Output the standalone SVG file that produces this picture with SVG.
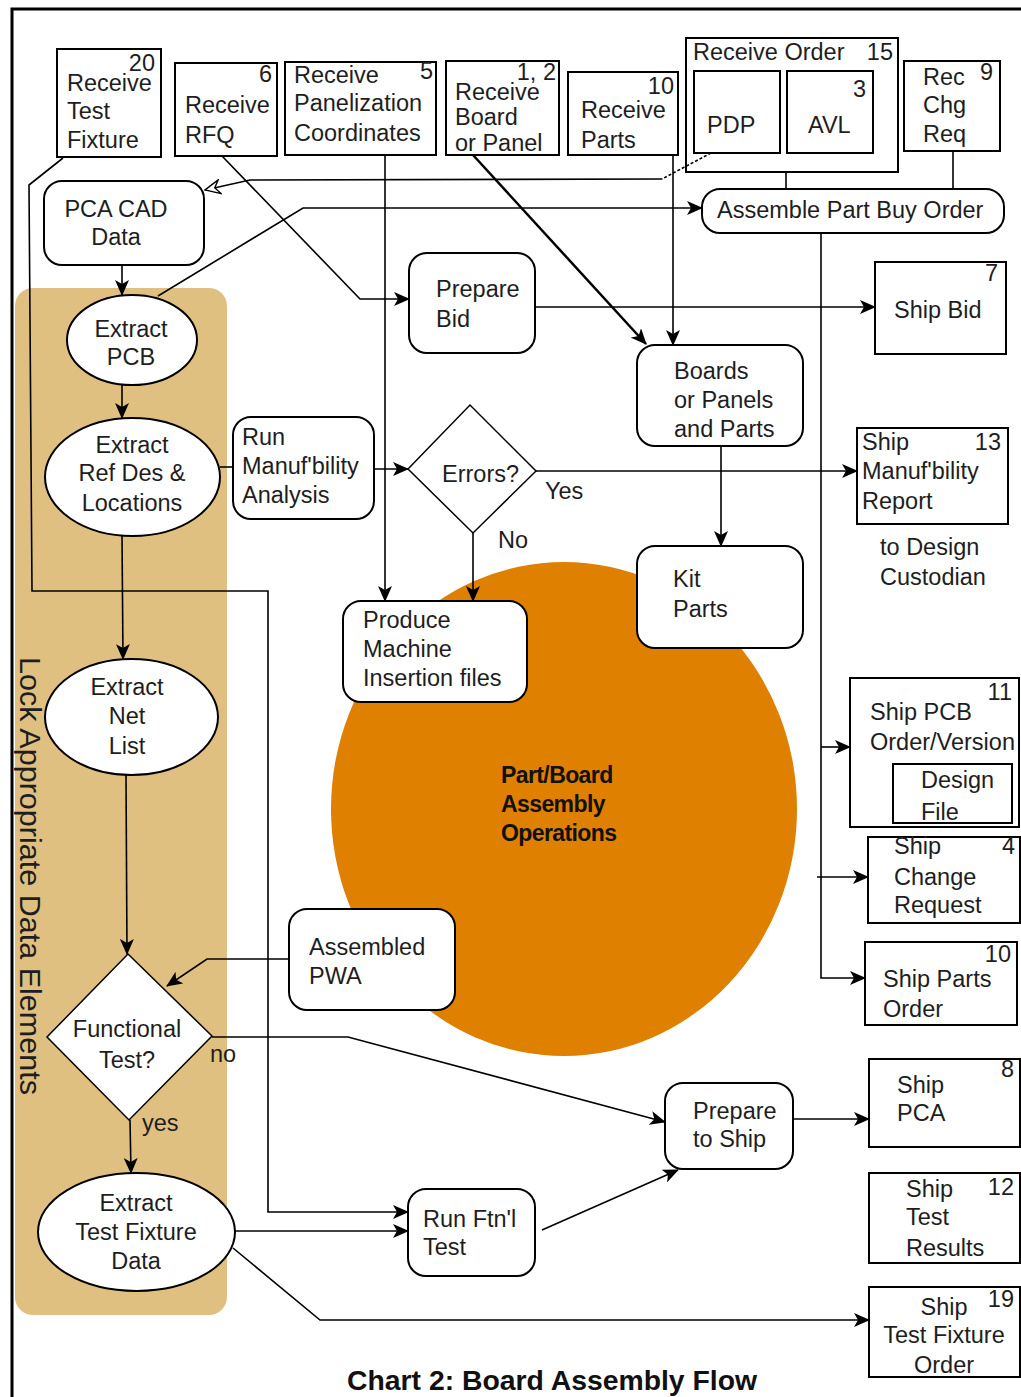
<svg xmlns="http://www.w3.org/2000/svg" width="1021" height="1397" viewBox="0 0 1021 1397">
<style>
.bx{fill:#fff;stroke:#000;stroke-width:2}
.t{font-family:"Liberation Sans",Arial,sans-serif;font-size:23.5px;fill:#1e1e1e}
.m{text-anchor:middle}
.e{text-anchor:end}
.c{fill:none;stroke:#000;stroke-width:1.6}
.a{marker-end:url(#ah)}
</style>
<defs>
<marker id="ah" viewBox="0 0 16 14" refX="15" refY="7" markerWidth="16" markerHeight="14" markerUnits="userSpaceOnUse" orient="auto"><path d="M0,0 L16,7 L0,14 L4,7 z" fill="#000"/></marker>
<marker id="oh" viewBox="0 0 18 16" refX="16" refY="8" markerWidth="18" markerHeight="16" markerUnits="userSpaceOnUse" orient="auto"><path d="M1,1 L16,8 L1,15 L6,8 z" fill="#fff" stroke="#000" stroke-width="1.4"/></marker>
</defs>
<rect width="1021" height="1397" fill="#fff"/>
<path d="M12,1397 V9 H1021" fill="none" stroke="#000" stroke-width="3"/>
<rect x="15" y="288" width="212" height="1027" rx="18" fill="#E0C080"/>
<ellipse cx="564" cy="809" rx="233" ry="247" fill="#DF8000"/>
<text class="t" transform="translate(20,657) rotate(90)" style="font-size:30px" textLength="438" lengthAdjust="spacingAndGlyphs">Lock Appropriate Data Elements</text>
<g font-family="Liberation Sans,Arial,sans-serif" font-weight="bold" font-size="23" letter-spacing="-0.6" fill="#111">
<text x="501" y="783">Part/Board</text>
<text x="501" y="812">Assembly</text>
<text x="501" y="841">Operations</text>
</g>

<g id="n_rtf"><rect class="bx" x="57" y="49" width="104" height="108"/>
<text class="t e" x="155" y="71">20</text><text class="t" x="67" y="91">Receive</text><text class="t" x="67" y="119">Test</text><text class="t" x="67" y="148">Fixture</text></g>
<g id="n_rfq"><rect class="bx" x="175" y="63" width="102" height="93"/>
<text class="t e" x="272" y="82">6</text><text class="t" x="185" y="113">Receive</text><text class="t" x="185" y="143">RFQ</text></g>
<g id="n_rpc"><rect class="bx" x="285" y="62" width="151" height="93"/>
<text class="t e" x="433" y="79">5</text><text class="t" x="294" y="83">Receive</text><text class="t" x="294" y="111">Panelization</text><text class="t" x="294" y="141">Coordinates</text></g>
<g id="n_rbp"><rect class="bx" x="446" y="61" width="113" height="94"/>
<text class="t e" x="556" y="80">1, 2</text><text class="t" x="455" y="100">Receive</text><text class="t" x="455" y="125">Board</text><text class="t" x="455" y="151">or Panel</text></g>
<g id="n_rp"><rect class="bx" x="568" y="72" width="110" height="83"/>
<text class="t e" x="674" y="94">10</text><text class="t" x="581" y="118">Receive</text><text class="t" x="581" y="148">Parts</text></g>
<g id="n_ro"><rect class="bx" x="686" y="38" width="212" height="134"/>
<text class="t" x="693" y="60">Receive Order</text><text class="t e" x="893" y="60">15</text>
<rect class="bx" x="694" y="71" width="86" height="82"/><text class="t" x="707" y="133">PDP</text>
<rect class="bx" x="787" y="71" width="86" height="82"/><text class="t e" x="866" y="97">3</text><text class="t" x="808" y="133">AVL</text></g>
<g id="n_rcr"><rect class="bx" x="904" y="61" width="96" height="90"/>
<text class="t e" x="993" y="80">9</text><text class="t" x="923" y="85">Rec</text><text class="t" x="923" y="113">Chg</text><text class="t" x="923" y="142">Req</text></g>
<g id="n_pca"><rect class="bx" x="44" y="181" width="160" height="84" rx="18"/>
<text class="t m" x="116" y="217">PCA CAD</text><text class="t m" x="116" y="245">Data</text></g>
<g id="n_apbo"><rect class="bx" x="702" y="189" width="302" height="44" rx="18"/>
<text class="t" x="717" y="218">Assemble Part Buy Order</text></g>
<g id="n_epcb"><ellipse class="bx" cx="132" cy="340" rx="65" ry="45"/>
<text class="t m" x="131" y="337">Extract</text><text class="t m" x="131" y="365">PCB</text></g>
<g id="n_pb"><rect class="bx" x="409" y="253" width="126" height="100" rx="18"/>
<text class="t" x="436" y="297">Prepare</text><text class="t" x="436" y="327">Bid</text></g>
<g id="n_sb"><rect class="bx" x="875" y="262" width="131" height="92"/>
<text class="t e" x="998" y="281">7</text><text class="t" x="894" y="318">Ship Bid</text></g>
<g id="n_bpp"><rect class="bx" x="637" y="345" width="166" height="101" rx="18"/>
<text class="t" x="674" y="379">Boards</text><text class="t" x="674" y="408">or Panels</text><text class="t" x="674" y="437">and Parts</text></g>
<g id="n_erd"><ellipse class="bx" cx="132.5" cy="477" rx="87.5" ry="59"/>
<text class="t m" x="132" y="453">Extract</text><text class="t m" x="132" y="481">Ref Des &amp;</text><text class="t m" x="132" y="511">Locations</text></g>
<g id="n_rma"><rect class="bx" x="233" y="417" width="141" height="102" rx="18"/>
<text class="t" x="242" y="445">Run</text><text class="t" x="242" y="474">Manuf'bility</text><text class="t" x="242" y="503">Analysis</text></g>
<g id="n_err"><polygon class="bx" style="stroke-width:1.5" points="408,469 470,405 536,471 473,533"/>
<text class="t" x="442" y="482">Errors?</text></g>
<text class="t" x="545" y="499">Yes</text>
<text class="t" x="498" y="548">No</text>
<g id="n_smr"><rect class="bx" x="857" y="428" width="151" height="96"/>
<text class="t" x="862" y="450">Ship</text><text class="t e" x="1001" y="450">13</text><text class="t" x="862" y="479">Manuf'bility</text><text class="t" x="862" y="509">Report</text></g>
<text class="t" x="880" y="555">to Design</text>
<text class="t" x="880" y="585">Custodian</text>
<g id="n_kp"><rect class="bx" x="637" y="546" width="166" height="102" rx="18"/>
<text class="t" x="673" y="587">Kit</text><text class="t" x="673" y="617">Parts</text></g>
<g id="n_pmi"><rect class="bx" x="343" y="601" width="184" height="101" rx="18"/>
<text class="t" x="363" y="628">Produce</text><text class="t" x="363" y="657">Machine</text><text class="t" x="363" y="686">Insertion files</text></g>
<g id="n_enl"><ellipse class="bx" cx="131.5" cy="717" rx="86.5" ry="58"/>
<text class="t m" x="127" y="695">Extract</text><text class="t m" x="127" y="724">Net</text><text class="t m" x="127" y="754">List</text></g>
<g id="n_pwa"><rect class="bx" x="289" y="909" width="166" height="101" rx="18"/>
<text class="t" x="309" y="955">Assembled</text><text class="t" x="309" y="984">PWA</text></g>
<g id="n_ft"><polygon class="bx" style="stroke-width:1.5" points="128,954 212,1036 129,1120 47,1037"/>
<text class="t m" x="127" y="1037">Functional</text><text class="t m" x="127" y="1068">Test?</text></g>
<text class="t" x="210" y="1062">no</text>
<text class="t" x="142" y="1131">yes</text>
<g id="n_etf"><ellipse class="bx" cx="136.5" cy="1232" rx="98.5" ry="59"/>
<text class="t m" x="136" y="1211">Extract</text><text class="t m" x="136" y="1240">Test Fixture</text><text class="t m" x="136" y="1269">Data</text></g>
<g id="n_rft"><rect class="bx" x="408" y="1189" width="127" height="87" rx="18"/>
<text class="t" x="423" y="1227">Run Ftn'l</text><text class="t" x="423" y="1255">Test</text></g>
<g id="n_pts"><rect class="bx" x="665" y="1083" width="128" height="86" rx="18"/>
<text class="t" x="693" y="1119">Prepare</text><text class="t" x="693" y="1147">to Ship</text></g>
<g id="n_spcb"><rect class="bx" x="850" y="678" width="169" height="149"/>
<text class="t e" x="1012" y="700">11</text><text class="t" x="870" y="720">Ship PCB</text><text class="t" x="870" y="750">Order/Version</text>
<rect class="bx" x="893" y="764" width="119" height="59"/><text class="t" x="921" y="788">Design</text><text class="t" x="921" y="820">File</text></g>
<g id="n_scr"><rect class="bx" x="868" y="837" width="152" height="86"/>
<text class="t e" x="1015" y="854">4</text><text class="t" x="894" y="854">Ship</text><text class="t" x="894" y="885">Change</text><text class="t" x="894" y="913">Request</text></g>
<g id="n_spo"><rect class="bx" x="865" y="942" width="152" height="83"/>
<text class="t e" x="1011" y="962">10</text><text class="t" x="883" y="987">Ship Parts</text><text class="t" x="883" y="1017">Order</text></g>
<g id="n_spca"><rect class="bx" x="869" y="1059" width="151" height="88"/>
<text class="t e" x="1014" y="1077">8</text><text class="t" x="897" y="1093">Ship</text><text class="t" x="897" y="1121">PCA</text></g>
<g id="n_str"><rect class="bx" x="869" y="1173" width="151" height="90"/>
<text class="t e" x="1014" y="1195">12</text><text class="t" x="906" y="1197">Ship</text><text class="t" x="906" y="1225">Test</text><text class="t" x="906" y="1256">Results</text></g>
<g id="n_stfo"><rect class="bx" x="869" y="1287" width="151" height="90"/>
<text class="t e" x="1014" y="1307">19</text><text class="t m" x="944" y="1315">Ship</text><text class="t m" x="944" y="1343">Test Fixture</text><text class="t m" x="944" y="1373">Order</text></g>
<text x="552" y="1390" font-family="Liberation Sans,Arial,sans-serif" font-weight="bold" font-size="27" text-anchor="middle" textLength="410" lengthAdjust="spacingAndGlyphs" fill="#111">Chart 2: Board Assembly Flow</text>

<g id="connectors">
<path class="c a" d="M63,158 L29,185 L32,591 L268,591 L268,1212 L408,1212"/>
<path class="c" d="M711,153 L662,179" stroke-dasharray="3,2"/>
<path class="c" d="M662,179 L250,180 L205,190" marker-end="url(#oh)"/>
<path class="c a" d="M122,265 L122,295"/>
<path class="c a" d="M158,296 L303,208 L702,208"/>
<path class="c a" d="M222,156 L360,299 L409,299"/>
<path class="c a" d="M385,155 L385,601"/>
<path class="c a" d="M473,155 L646,344" style="stroke-width:2.5"/>
<path class="c a" d="M673,155 L673,345"/>
<path class="c" d="M786,172 L786,189"/>
<path class="c" d="M953,151 L953,189"/>
<path class="c a" d="M821,233 L821,978 L865,978"/>
<path class="c a" d="M821,747 L850,747"/>
<path class="c a" d="M817,877 L868,877"/>
<path class="c a" d="M535,307 L875,307"/>
<path class="c a" d="M122,385 L122,418"/>
<path class="c" d="M220,467 L233,467"/>
<path class="c a" d="M374,469 L408,469"/>
<path class="c a" d="M536,471 L857,471"/>
<path class="c a" d="M473,533 L473,601"/>
<path class="c a" d="M721,446 L721,546"/>
<path class="c a" d="M122,536 L123,659"/>
<path class="c a" d="M126,775 L127,954"/>
<path class="c a" d="M289,959 L207,959 L167,986"/>
<path class="c a" d="M212,1037 L348,1037 L665,1122"/>
<path class="c a" d="M130,1120 L131,1173"/>
<path class="c a" d="M235,1231 L408,1231"/>
<path class="c a" d="M233,1248 L320,1320 L869,1320"/>
<path class="c a" d="M542,1230 L678,1170"/>
<path class="c a" d="M793,1119 L869,1119"/>
</g>
</svg>
